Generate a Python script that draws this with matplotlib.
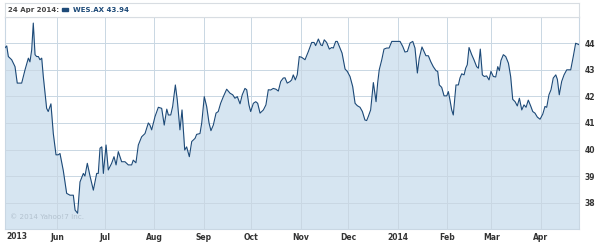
import numpy as np
import pandas as pd
import matplotlib
matplotlib.use("Agg")
import matplotlib.pyplot as plt
import matplotlib.dates as mdates

# days since 29 Apr 2013 and closing price (WES.AX)
days = [0.0, 1.1, 2.1, 4.2, 6.3, 7.7, 10.5, 12.6, 14.7, 15.7, 16.8, 17.8, 18.9, 19.9, 21.0, 22.0,
        23.1, 24.1, 26.2, 27.2, 28.9, 30.4, 32.1, 33.5, 34.6, 36.7, 38.8, 40.9, 43.0, 44.1, 45.7,
        47.2, 49.3, 50.3, 51.8, 53.5, 55.6, 57.7, 58.7, 59.8, 60.9, 61.9, 63.6, 65.0, 67.1, 68.6,
        69.9, 71.3, 73.4, 75.5, 77.6, 79.7, 80.7, 82.4, 83.9, 86.0, 88.1, 90.2, 91.2,
        92.3, 94.4, 96.5, 98.6, 100.2, 101.8, 102.8, 104.3, 105.5, 107.2, 108.4, 110.1, 111.4,
        113.1, 114.3, 116.0, 117.5, 119.6, 120.6, 122.7, 123.8, 125.4, 126.9, 128.4, 129.6,
        131.1, 132.8, 134.2, 135.7, 137.4, 139.5, 141.6, 143.3, 144.7, 146.2, 147.9, 149.3,
        151.0, 152.1, 153.5, 154.6, 156.3, 157.8, 159.0, 160.5, 162.6, 164.2, 165.7, 167.2,
        168.8, 170.5, 172.0, 173.5, 175.1, 176.2, 177.6, 179.4, 180.4, 181.4, 182.7, 183.9, 185.2,
        186.7, 188.8, 190.9, 193.0, 194.5, 195.5, 197.2, 198.7, 199.7, 200.9, 202.4, 204.1,
        205.6, 206.6, 208.1, 209.1, 210.4, 212.1, 214.0, 215.4, 217.1, 218.8, 220.3, 221.7,
        223.4, 224.9, 226.5, 227.6, 228.6, 230.1, 231.8, 233.5, 234.5, 235.5, 237.1, 238.5,
        240.2, 241.7, 243.4, 245.4, 248.6, 250.3, 251.7, 253.2, 254.9, 256.6, 258.0, 259.5,
        260.7, 262.4, 263.7, 264.9, 266.4, 267.9, 269.5, 271.2, 272.3, 273.3, 274.8, 276.3,
        278.0, 279.0, 280.0,
        281.1, 282.1, 283.8, 285.3, 286.3, 287.4, 288.9, 289.9, 290.9, 292.0, 293.7, 295.1,
        296.8, 297.9, 299.1, 300.4, 301.6, 303.1, 304.6, 305.8, 307.3, 308.8, 310.1, 311.1,
        312.1, 313.6, 315.1, 316.8, 318.2, 319.5, 321.0, 322.4, 323.7, 325.2, 326.6, 327.9,
        329.3, 330.8, 332.1, 333.5, 335.0, 336.7, 338.4, 339.8, 340.9, 342.3, 343.6, 345.0,
        346.6, 347.6, 348.8, 350.3, 351.8, 353.5, 356.0, 357.6, 359.1, 360.8, 361.4]

price = [43.83, 43.90, 43.50, 43.38, 43.12, 42.50, 42.50, 43.00, 43.44, 43.30, 43.75, 44.76, 43.57,
         43.50, 43.50, 43.38, 43.44, 42.75, 41.55, 41.43, 41.72, 40.60, 39.80, 39.80, 39.85, 39.20,
         38.35, 38.28, 38.28, 37.72, 37.60, 38.78, 39.10, 39.00, 39.48, 39.00, 38.47, 39.10, 39.10,
         40.05, 40.10, 39.10, 40.17, 39.23, 39.48, 39.73, 39.42, 39.92, 39.54, 39.54, 39.42, 39.42,
         39.60, 39.50, 40.17, 40.48, 40.60, 41.00, 40.92,
         40.74, 41.24, 41.59, 41.55, 40.92, 41.52, 41.30, 41.30, 41.62, 42.43, 41.87, 40.74, 41.49,
         39.98, 40.10, 39.73, 40.30, 40.42, 40.57, 40.60, 41.00, 41.99, 41.62, 41.00, 40.71, 40.92,
         41.37, 41.43, 41.74, 41.99, 42.27, 42.12, 42.06, 41.93, 41.99, 41.72, 42.06, 42.30, 42.25,
         41.68, 41.43, 41.74, 41.80, 41.74, 41.37, 41.49, 41.68, 42.25, 42.24, 42.30, 42.27, 42.20,
         42.56, 42.69, 42.70, 42.50, 42.56, 42.62, 42.81, 42.62, 42.81, 43.50,
         43.47, 43.38, 43.69, 44.03, 44.03, 43.91, 44.16, 43.94, 43.91, 44.13, 44.03, 43.78, 43.84,
         43.82, 44.07, 44.07, 43.88, 43.63, 43.03, 42.94, 42.75, 42.37, 41.74, 41.65, 41.59, 41.43,
         41.11, 41.09, 41.24, 41.49, 42.52, 41.80, 42.50, 43.00, 43.38, 43.78, 43.82, 43.82, 44.07,
         44.07, 44.07, 43.88, 43.67, 43.69, 44.01, 44.07, 43.82, 42.88, 43.44, 43.86, 43.69, 43.53,
         43.53, 43.31, 43.12, 42.97, 42.94, 42.43, 42.34, 42.02, 42.02, 42.18, 41.87,
         41.49, 41.30, 42.43, 42.43, 42.69, 42.85, 42.81, 43.06, 43.19, 43.84, 43.57, 43.38, 43.12,
         43.06, 43.78, 42.81, 42.75, 42.77, 42.62, 42.94, 42.75, 42.73, 43.12, 42.97, 43.35, 43.57,
         43.50, 43.25, 42.75, 41.89, 41.80, 41.64, 41.93, 41.49, 41.68, 41.59, 41.86, 41.64, 41.43,
         41.37, 41.22, 41.14, 41.33, 41.62, 41.59, 42.06, 42.25, 42.69, 42.81, 42.64, 42.06, 42.56,
         42.81, 43.00, 43.00, 43.50, 44.00, 43.96, 43.94]

month_ticks = ["2013-06-01", "2013-07-01", "2013-08-01", "2013-09-01", "2013-10-01", "2013-11-01",
               "2013-12-01", "2014-01-01", "2014-02-01", "2014-03-01", "2014-04-01"]
month_labels = ["Jun", "Jul", "Aug", "Sep", "Oct", "Nov", "Dec", "2014", "Feb", "Mar", "Apr"]
y_ticks = [38, 39, 40, 41, 42, 43, 44]

dates = pd.Timestamp("2013-04-29") + pd.to_timedelta(days, unit="D")

grid_c = "#c9d7e3"
line_c = "#1d4a78"
fill_c = "#d6e5f1"
text_c = "#333333"

fig = plt.figure(figsize=(6, 2.42), dpi=100)
ax = fig.add_axes([5 / 600, 12.8 / 242, 574.3 / 600, 212.5 / 242])

ax.fill_between(dates, price, 37, color=fill_c, lw=0, zorder=1)
ax.plot(dates, price, color=line_c, lw=0.8, zorder=3)

ax.set_xlim(dates[0], dates[-1])
ax.set_ylim(37, 45)

ax.set_xticks(pd.to_datetime(month_ticks))
ax.set_xticklabels(month_labels)
ax.set_yticks(y_ticks)
ax.yaxis.tick_right()
ax.tick_params(axis="both", length=0, labelsize=5.5, labelcolor=text_c)
ax.tick_params(axis="x", pad=3)
ax.tick_params(axis="y", pad=4)
for lab in ax.get_xticklabels() + ax.get_yticklabels():
    lab.set_fontweight("bold")

ax.grid(True, color=grid_c, lw=0.7, zorder=2)
ax.set_axisbelow(False)
for s in ax.spines.values():
    s.set_color(grid_c)
    s.set_linewidth(0.8)

ax.text(0.003, -0.014, "2013", transform=ax.transAxes, ha="left", va="top",
        fontsize=5.5, fontweight="bold", color=text_c)
ax.text(0.008, 0.045, "\u00a9 2014 Yahoo!7 Inc.", transform=ax.transAxes, ha="left",
        va="bottom", fontsize=5.2, color="#b3c2cf")

# header box
hdr = fig.add_axes([5 / 600, 225.5 / 242, 574.3 / 600, 13.5 / 242])
hdr.set_xticks([])
hdr.set_yticks([])
for s in hdr.spines.values():
    s.set_color("#d8dde2")
    s.set_linewidth(0.8)
hdr.text(2.5 / 574, 0.5, "24 Apr 2014:", ha="left", va="center", fontsize=5.0,
         fontweight="bold", color="#444444", transform=hdr.transAxes)
hdr.add_patch(plt.Rectangle((57 / 574, 0.4), 6 / 574, 0.22, color=line_c, transform=hdr.transAxes))
hdr.text(68 / 574, 0.5, "WES.AX 43.94", ha="left", va="center", fontsize=5.0,
         fontweight="bold", color=line_c, transform=hdr.transAxes)

fig.savefig("out.png", dpi=100)
